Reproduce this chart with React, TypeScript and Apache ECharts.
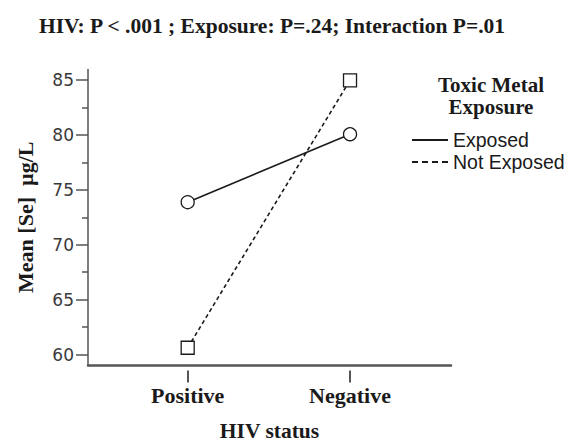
import React, { useEffect, useRef } from 'react';
import * as echarts from 'echarts';

const categories = ['Positive', 'Negative'];
const exposed = [73.7, 80.0];
const notExposed = [60.2, 85.0];
const seriesNames = ['Exposed', 'Not Exposed'];
const yTickMin = 60;
const yTickMax = 85;
const yTickStep = 5;
const titleText = 'HIV: P < .001 ; Exposure: P=.24; Interaction P=.01';
const legendTitle = 'Toxic Metal\nExposure';
const xName = 'HIV status';
const yName = 'Mean [Se]  µg/L';

export default function App() {
  const ref = useRef<HTMLDivElement>(null);
  useEffect(() => {
    const chart = echarts.init(ref.current!, null, { renderer: 'svg' });
    const serif = '"Liberation Serif", "Times New Roman", serif';
    const sans = '"Liberation Sans", Arial, sans-serif';
    const axisColor = '#555';
    const ink = '#1a1a1a';
    const tickStyle = { color: axisColor, width: 1.5 };
    chart.setOption({
      animation: false,
      backgroundColor: '#fff',
      graphic: [
        {
          type: 'text', x: 272, y: 26,
          style: { text: titleText, align: 'center', verticalAlign: 'middle', fontFamily: serif, fontWeight: 'bold', fontSize: 21.5, fill: ink },
        },
        {
          type: 'text', x: 491, y: 96,
          style: { text: legendTitle, align: 'center', verticalAlign: 'middle', fontFamily: serif, fontWeight: 'bold', fontSize: 21, lineHeight: 22, fill: ink },
        },
      ],
      legend: {
        orient: 'vertical', left: 412, top: 129, padding: 0, itemGap: 0,
        itemWidth: 36, itemHeight: 2, selectedMode: false,
        textStyle: { fontFamily: sans, fontSize: 19.5, color: ink, lineHeight: 22 },
        itemStyle: { color: ink, borderWidth: 0 },
        data: [
          { name: seriesNames[0], icon: 'path://M0 0H36V2H0Z' },
          { name: seriesNames[1], icon: 'path://M0 0H6V2H0Z M10 0H16V2H10Z M20 0H26V2H20Z M30 0H36V2H30Z' },
        ],
      },
      grid: [
        { left: 88, right: 118, top: 69.5, bottom: 76.5 },
        { left: 88, right: 118, top: 80, bottom: 92.5 },
        { left: 187.7, right: 219, top: 69.5, bottom: 76.5 },
      ],
      xAxis: [
        {
          gridIndex: 0, type: 'value', min: -0.614, max: 1.622,
          axisLine: { show: true, onZero: false, lineStyle: { color: axisColor, width: 2.5 } },
          axisTick: { show: false }, axisLabel: { show: false }, splitLine: { show: false },
          name: xName, nameLocation: 'middle', nameGap: 55,
          nameTextStyle: { fontFamily: serif, fontWeight: 'bold', fontSize: 21.5, color: ink },
        },
        { gridIndex: 1, type: 'value', show: false },
        {
          gridIndex: 2, type: 'value', min: 0, max: 1, interval: 1,
          axisLine: { show: false, onZero: false },
          axisTick: { show: true, length: 12, lineStyle: { color: axisColor, width: 2 } },
          axisLabel: {
            formatter: (v: number) => categories[v] ?? '', margin: 14,
            fontFamily: serif, fontWeight: 'bold', fontSize: 22, color: ink,
          },
          splitLine: { show: false },
        },
      ],
      yAxis: [
        {
          gridIndex: 0, type: 'value', min: 58.6, max: 86,
          axisLine: { show: true, onZero: false, lineStyle: { color: axisColor, width: 1.5 } },
          axisTick: { show: false }, axisLabel: { show: false }, splitLine: { show: false },
          name: yName, nameLocation: 'middle', nameGap: 52, nameRotate: 90,
          nameTextStyle: { fontFamily: serif, fontWeight: 'bold', fontSize: 22, color: ink },
        },
        {
          gridIndex: 1, type: 'value', min: yTickMin, max: yTickMax, interval: yTickStep,
          axisLine: { show: false, onZero: false },
          axisTick: { show: true, length: 12, lineStyle: tickStyle },
          minorTick: { show: true, splitNumber: 2, length: 6, lineStyle: tickStyle },
          axisLabel: { margin: 14, fontFamily: '"DejaVu Sans", Verdana, sans-serif', fontSize: 17, color: '#3a3a3a' },
          splitLine: { show: false }, minorSplitLine: { show: false },
        },
        { gridIndex: 2, type: 'value', show: false },
      ],
      series: [
        {
          name: seriesNames[0], type: 'line', xAxisIndex: 0, yAxisIndex: 0,
          data: categories.map((_, i) => [i, exposed[i]]),
          symbol: 'circle', symbolSize: 13, clip: false,
          lineStyle: { color: ink, width: 1.6 },
          itemStyle: { color: '#fff', borderColor: ink, borderWidth: 1.3 },
        },
        {
          name: seriesNames[1], type: 'line', xAxisIndex: 0, yAxisIndex: 0,
          data: categories.map((_, i) => [i, notExposed[i]]),
          symbol: 'rect', symbolSize: 13, clip: false,
          lineStyle: { color: ink, width: 1.6, type: [4, 3] },
          itemStyle: { color: '#fff', borderColor: ink, borderWidth: 1.3 },
        },
      ],
    });
    return () => chart.dispose();
  }, []);
  return <div ref={ref} style={{ position: 'fixed', left: 0, top: 0, width: 569, height: 447 }} />;
}
